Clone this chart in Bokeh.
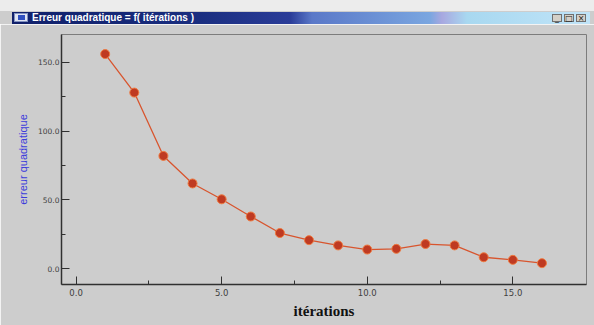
from bokeh.plotting import figure
from bokeh.models import Range1d, FixedTicker, Div
from bokeh.layouts import column
from bokeh.embed import file_html
from bokeh.resources import INLINE

# ---- data ----
iterations = [1, 2, 3, 4, 5, 6, 7, 8, 9, 10, 11, 12, 13, 14, 15, 16]
erreur = [156, 128, 82, 62, 50.5, 38, 26, 20.8, 17, 14, 14.5, 18, 17, 8.4, 6.5, 4.1]
x_major = [0, 5, 10, 15]
x_minor = [2.5, 7.5, 12.5]
x_labels = ["0.0", "5.0", "10.0", "15.0"]
y_major = [0, 50, 100, 150]
y_minor = [25, 75, 125]
y_labels = ["0.0", "50.0", "100.0", "150.0"]
window_title = "Erreur quadratique = f( itérations )"
x_title = "itérations"
y_title = "erreur quadratique"

W = 594
BAR_H = 24
H = 325 - BAR_H
BG = "#cdcdcd"

# ---- window title bar (HTML decoration) ----
grad = ("linear-gradient(to right, #10206a 0px, #1a2e80 188px, #2a3c98 278px, #5a78c8 300px, "
        "#7aa6e0 418px, #a8a8e0 430px, #a8d8f0 455px, #c0e4f8 578px)")
buttons = ""
for bx, sym in ((552, "_"), (564, "□"), (576, "×")):
    buttons += (f'<div style="position:absolute;left:{bx}px;top:14px;width:10px;height:8px;'
                f'background:#d4d0c8;border:1px solid #707070;font:8px \'DejaVu Sans\';'
                f'line-height:8px;text-align:center;color:#202020;">{sym}</div>')
bar_html = (
    f'<div style="position:relative;width:{W}px;height:{BAR_H}px;background:{BG};overflow:hidden;">'
    f'<div style="position:absolute;left:0;top:0;width:{W}px;height:11px;background:#ececec;"></div>'
    f'<div style="position:absolute;left:12px;top:12px;width:578px;height:12px;background:{grad};"></div>'
    f'<div style="position:absolute;left:14px;top:13px;width:14px;height:9px;background:#dfe4f2;'
    f'border:1px solid #8090c0;"></div>'
    f'<div style="position:absolute;left:18px;top:15px;width:7px;height:5px;background:#3050c0;"></div>'
    f'<div style="position:absolute;left:32px;top:12px;height:12px;line-height:12px;'
    f'font:bold 10px \'Liberation Sans\';color:#ffffff;white-space:nowrap;">{window_title}</div>'
    f'{buttons}</div>'
)
bar = Div(text=bar_html, width=W, height=BAR_H, margin=0)

# ---- chart ----
p = figure(width=W, height=H, output_backend="svg", toolbar_location=None,
           x_range=Range1d(-0.5, 17.53), y_range=Range1d(-11.4, 170.2),
           min_border_left=61, min_border_right=8, min_border_top=10, min_border_bottom=41,
           background_fill_color=BG, border_fill_color=BG,
           outline_line_color="#7c7c7c", outline_line_width=1, margin=0)
p.grid.visible = False

for ax, major, minor, labels, fs in ((p.xaxis[0], x_major, x_minor, x_labels, "8.5px"),
                                     (p.yaxis[0], y_major, y_minor, y_labels, "7.5px")):
    ax.ticker = FixedTicker(ticks=major, minor_ticks=minor)
    ax.major_label_overrides = {m: l for m, l in zip(major, labels)}
    ax.axis_line_color = "#303030"
    ax.axis_line_width = 1.5
    ax.major_tick_in = 8
    ax.major_tick_out = 0
    ax.minor_tick_in = 4
    ax.minor_tick_out = 0
    ax.major_tick_line_color = "#303030"
    ax.minor_tick_line_color = "#303030"
    ax.major_label_text_font = "DejaVu Sans"
    ax.major_label_text_font_size = fs
    ax.major_label_text_color = "#404040"
p.xaxis.major_label_standoff = 4
p.yaxis.major_label_standoff = 2

p.xaxis.axis_label = x_title
p.xaxis.axis_label_text_font = "Liberation Serif"
p.xaxis.axis_label_text_font_style = "bold"
p.xaxis.axis_label_text_font_size = "15px"
p.xaxis.axis_label_text_color = "#111111"
p.xaxis.axis_label_standoff = 4

p.yaxis.axis_label = y_title
p.yaxis.axis_label_text_font = "Liberation Sans"
p.yaxis.axis_label_text_font_style = "normal"
p.yaxis.axis_label_text_font_size = "11px"
p.yaxis.axis_label_text_color = "#3c3cdc"
p.yaxis.axis_label_standoff = 6

p.line(iterations, erreur, line_color="#d8552e", line_width=1.3)
p.scatter(iterations, erreur, marker="circle", size=9,
          fill_color="#bf3a22", line_color="#ef7a40", line_width=1)

layout = column(bar, p, spacing=0, margin=0)
open("out.html", "w").write(file_html(layout, INLINE, title="Erreur quadratique"))
